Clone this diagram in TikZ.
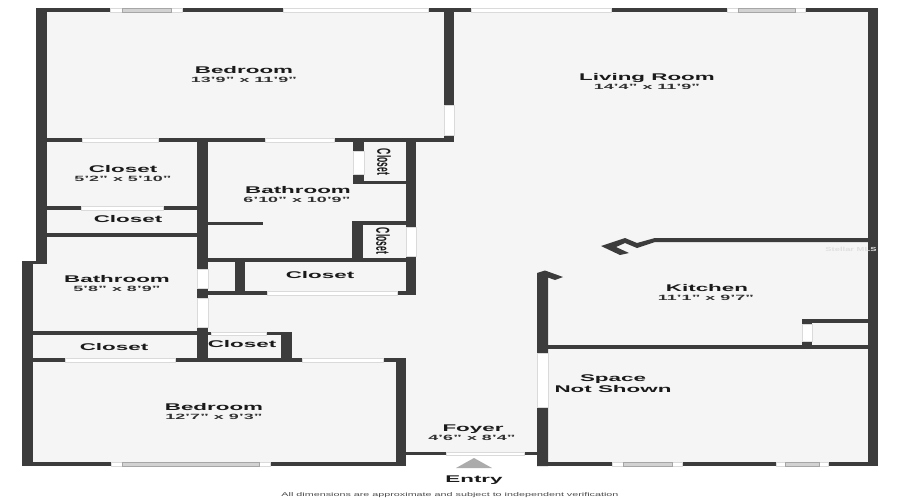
\documentclass[tikz,border=0pt]{standalone}
\usepackage{fontspec}
\setmainfont{Liberation Sans}
\definecolor{wallc}{HTML}{3C3C3C}
\definecolor{floorc}{HTML}{F5F5F5}
\definecolor{edgec}{HTML}{DADADA}
\definecolor{glassc}{HTML}{D2D2D2}
\definecolor{inkc}{HTML}{1A1A1A}
\tikzset{
  wallshape/.style={fill=wallc,draw=none},
  gapshape/.style={fill=white,draw=edgec,line width=0.4pt},
  glassshape/.style={fill=glassc,draw=gray!70,line width=0.3pt},
  roomname/.style={font=\fontsize{7.3pt}{9pt}\selectfont\bfseries,text=inkc,xscale=2.3,transform shape,inner sep=0pt,anchor=base,yshift=-2.6pt},
  roomsize/.style={font=\fontsize{5.7pt}{8pt}\selectfont\bfseries,text=inkc!90!white,xscale=2.35,transform shape,inner sep=0pt,anchor=base,yshift=-2.1pt},
  roomturned/.style={font=\fontsize{6.4pt}{8pt}\selectfont\bfseries,text=inkc,xscale=2.2,rotate=-90,transform shape,inner sep=0pt},
  footnote/.style={font=\fontsize{4.1pt}{5pt}\selectfont,text=black!70,xscale=1.97,transform shape,inner sep=0pt},
  markshape/.style={font=\fontsize{4.4pt}{5pt}\selectfont\bfseries,text=black!12,xscale=1.6,transform shape,inner sep=0pt}
}
\newcommand\wl[4]{\fill[wallshape] (#1,#2) rectangle (#3,#4);}
\newcommand\gp[4]{\filldraw[gapshape] (#1,#2) rectangle (#3,#4);}
\newcommand\wn[6]{\filldraw[gapshape] (#1,#3) rectangle (#2,#4);\filldraw[glassshape] (#5,#3) rectangle (#6,#4);}
\begin{document}
\begin{tikzpicture}[x=0.75pt,y=-0.75pt]
\useasboundingbox (0,0) rectangle (900,500);
\fill[white] (0,0) rectangle (900,500);
% floor
\fill[floorc] (36,8) -- (878,8) -- (878,466) -- (537,466) -- (537,455) -- (406,455) -- (406,466) -- (22,466) -- (22,261) -- (36,261) -- cycle;
% outer walls
\wl{36}{8}{47}{263}
\wl{22}{261}{47}{264}
\wl{22}{261}{33}{466}
\wl{36}{8}{878}{12}
\wl{868}{8}{878}{466}
\wl{22}{462}{406}{466}
\wl{537}{462}{878}{466}
% top openings
\wn{110}{182}{8}{12}{122}{171}
\gp{283}{8}{428}{12}
\gp{471}{8}{611}{12}
\wn{727}{805}{8}{12}{738}{795}
% bottom openings
\wn{111}{270}{462}{466}{122}{259}
\wn{612}{682}{462}{466}{623}{672}
\wn{776}{828}{462}{466}{785}{819}
% bedroom / living partition
\wl{444}{8}{454}{142}
\gp{444}{105}{454}{135}
% horizontal under top bedroom
\wl{36}{138}{454}{142}
\gp{82}{138}{158}{142}
\gp{265}{138}{334}{142}
% closets at left
\wl{197}{138}{208}{358}
\gp{197}{269}{208}{288}
\gp{197}{298}{208}{327}
\wl{47}{206}{197}{210}
\gp{81}{206}{163}{210}
\wl{47}{233}{197}{237}
% bathroom half wall
\wl{208}{222}{263}{225}
% upper small closet
\wl{353}{142}{364}{184}
\gp{353}{151}{364}{174}
\wl{353}{181}{406}{184}
% right service wall
\wl{406}{138}{416}{295}
\gp{406}{227}{416}{256}
% lower small closet
\wl{352}{221}{406}{225}
\wl{352}{221}{363}{260}
\wl{208}{258}{406}{262}
% wide closet
\wl{235}{260}{245}{295}
\wl{208}{291}{416}{295}
\gp{267}{291}{397}{295}
% left bath lower wall
\wl{33}{331}{197}{335}
% small closet by the hall
\wl{208}{332}{292}{335}
\gp{211}{332}{266}{335}
\wl{281}{332}{292}{362}
% bedroom top
\wl{22}{358}{406}{362}
\gp{65}{358}{175}{362}
\gp{302}{358}{383}{362}
\wl{396}{358}{406}{466}
% foyer
\wl{406}{452}{538}{455}
\gp{446}{452}{524}{455}
\fill[wallc] (537,466) -- (537,273) -- (545,270.5) -- (563,277) -- (555,280) -- (548,277.5) -- (548,466) -- cycle;
\gp{537}{353}{548}{407}
% kitchen
\fill[wallc] (868,238) -- (655,238) -- (637,243) -- (625,238) -- (601,246) -- (620,255) -- (629,253) -- (616,247) -- (625,243) -- (637,248) -- (655,242) -- (868,242) -- cycle;
\wl{548}{345}{868}{349}
\wl{802}{319}{868}{323}
\wl{802}{319}{812}{349}
\gp{802}{324}{812}{341}
% entry arrow
\fill[black!33] (456,468) -- (474,458) -- (492,468) -- cycle;
% labels
\node[roomname] (bedroomA) at (244,70.5) {Bedroom};
\node[roomsize] (bedroomAs) at (244,80) {13'9" x 11'9"};
\node[roomname] (living) at (647,76.7) {Living Room};
\node[roomsize] (livings) at (647,87) {14'4" x 11'9"};
\node[roomname] (closetA) at (123,169) {Closet};
\node[roomsize] (closetAs) at (123,179) {5'2" x 5'10"};
\node[roomname] (bathA) at (298,190) {Bathroom};
\node[roomsize] (bathAs) at (297,199.5) {6'10" x 10'9"};
\node[roomname] (closetB) at (128,219) {Closet};
\node[roomturned] (closetC) at (384,162) {Closet};
\node[roomturned] (closetD) at (383,241) {Closet};
\node[roomname] (bathB) at (117,279.5) {Bathroom};
\node[roomsize] (bathBs) at (117,289) {5'8" x 8'9"};
\node[roomname] (closetE) at (320,275) {Closet};
\node[roomname] (closetF) at (114,347) {Closet};
\node[roomname] (closetG) at (242,344) {Closet};
\node[roomname] (bedroomB) at (214,407) {Bedroom};
\node[roomsize] (bedroomBs) at (214,416.5) {12'7" x 9'3"};
\node[roomname] (foyer) at (473,428) {Foyer};
\node[roomsize] (foyers) at (472,438) {4'6" x 8'4"};
\node[roomname] (entry) at (474,479) {Entry};
\node[roomname] (kitchen) at (707,288) {Kitchen};
\node[roomsize] (kitchens) at (706,298) {11'1" x 9'7"};
\node[roomname] (spaceA) at (613,378) {Space};
\node[roomname] (spaceB) at (613,389) {Not Shown};
\node[footnote] (note) at (450,495.5) {All dimensions are approximate and subject to independent verification};
\node[markshape] (mark) at (851,249) {Stellar MLS};
\end{tikzpicture}
\end{document}
